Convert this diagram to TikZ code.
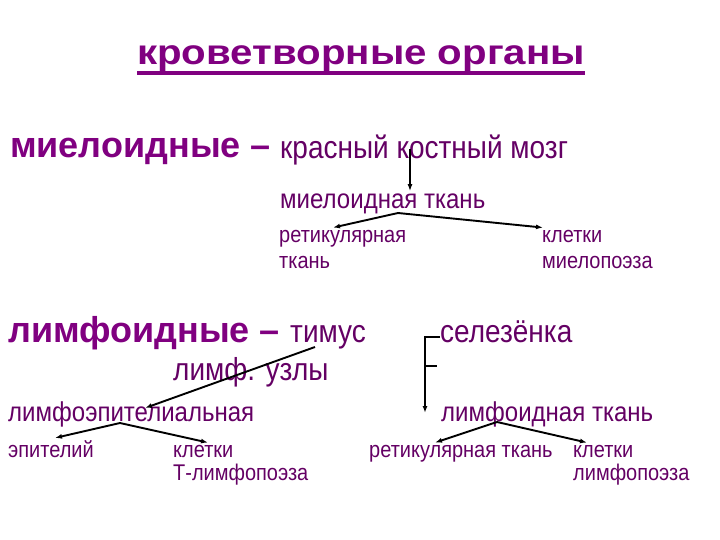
\documentclass[tikz,border=0pt]{standalone}
\usepackage{fontspec}
\setmainfont{Liberation Sans}
\usetikzlibrary{positioning,arrows.meta}
\definecolor{lila}{RGB}{128,0,128}
\definecolor{dlila}{RGB}{100,0,100}

\begin{document}
\begin{tikzpicture}[x=1pt,y=-1pt,>={Latex[length=7pt,width=5pt]},
        txt/.style={anchor=base west,inner xsep=0pt,inner ysep=2pt,text=dlila,align=left},
        big/.style={txt,text=lila,font=\bfseries\fontsize{36}{42}\selectfont},
        mid/.style={txt,font=\fontsize{31.8}{34}\selectfont\addfontfeature{FakeStretch=0.88}},
        sub/.style={txt,font=\fontsize{27.3}{29}\selectfont\addfontfeature{FakeStretch=0.88}},
        low/.style={txt,font=\fontsize{22.7}{26}\selectfont\addfontfeature{FakeStretch=0.88}},
        line/.style={line width=1.9pt}]
        \useasboundingbox (0,0) rectangle (720,540);
        \node[big,font=\bfseries\fontsize{35}{40}\selectfont\addfontfeature{FakeStretch=1.15}] (titel) at (137,65) {кроветворные органы};
        \draw[lila,line width=4pt] ([yshift=-8pt]titel.base west) -- ([yshift=-8pt]titel.base east);

        \node[big] (mye) at (10,158) {миелоидные –};
        \node[mid] (kkm) at (280,159) {красный костный мозг};
        \node[sub] (mtk) at (280,208) {миелоидная ткань};
        \node[low] (ret) at (279,268) {ретикулярная\\ткань};
        \node[low] (klm) at (542,268) {клетки\\миелопоэза};

        \node[big] (lym) at (8,342) {лимфоидные –};
        \node[mid] (tim) at (290,342) {тимус};
        \node[mid] (sel) at (440,342) {селезёнка};
        \node[mid] (luz) at (173,380) {лимф. узлы};
        \node[sub] (lep) at (8,421) {лимфоэпителиальная};
        \node[sub] (ltk) at (441,421) {лимфоидная ткань};
        \node[low] (epi) at (8,457) {эпителий};
        \node[low,font=\fontsize{22.7}{23}\selectfont\addfontfeature{FakeStretch=0.88}] (klt) at (173,480) {клетки\\Т-лимфопоэза};
        \node[low] (rtk) at (369,457) {ретикулярная ткань};
        \node[low,font=\fontsize{22.7}{23}\selectfont\addfontfeature{FakeStretch=0.88}] (kll) at (573,480) {клетки\\лимфопоэза};

        \coordinate (brk) at (425,366);

        \path[->,line] 
        ([xshift=130pt,yshift=10pt]kkm.base west) edge ([xshift=130pt]mtk.north west)
        ([xshift=118pt,yshift=-5pt]mtk.base west) edge ([xshift=54pt]ret.north west)
        edge ([xshift=1pt]klm.north west)
        ([xshift=25pt,yshift=-5pt]tim.base west) edge ([xshift=137pt,yshift=-9pt]lep.north west)
        ([xshift=112pt,yshift=-2pt]lep.base west) edge ([xshift=47pt]epi.north west)
        edge ([xshift=35pt]klt.north west)
        ([xshift=56pt,yshift=-1pt]ltk.base west) edge ([xshift=66pt]rtk.north west)
        edge ([xshift=14pt]kll.north west);
        \draw[->,line] ([yshift=-6pt]sel.west) -| ([xshift=-16pt,yshift=-14pt]ltk.north west);
        \draw[line] (brk) -- ++(12,0);
      \end{tikzpicture}
\end{document}
